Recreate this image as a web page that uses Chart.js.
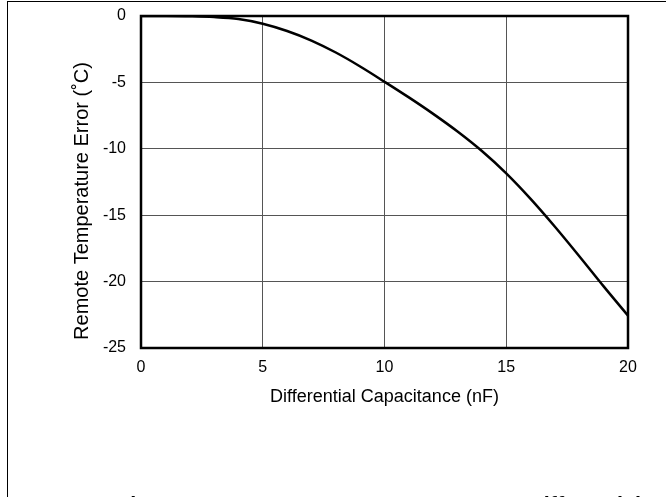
<!DOCTYPE html>
<html>
<head>
<meta charset="utf-8">
<script src="https://cdn.jsdelivr.net/npm/chart.js@4/dist/chart.umd.min.js"></script>
<style>
  html, body { margin: 0; padding: 0; background: #fff; overflow: hidden; }
  #wrap { position: relative; width: 671px; height: 497px; }
  #frame { position: absolute; left: 7px; top: 1px; width: 659px; height: 496px;
           border-top: 1.5px solid #000; border-left: 1.5px solid #000; box-sizing: border-box; }
  #caption { position: absolute; left: 117px; top: 494px; white-space: nowrap;
             font: bold 21.6px "Liberation Sans", Arial, sans-serif; line-height: 1; color: #000; }
  canvas { position: absolute; left: 0; top: 0; }
</style>
</head>
<body>
<div id="wrap">
  <canvas id="c" width="671" height="497"></canvas>
  <div id="frame"></div>
  <div id="caption">Figure 4. Remote Temperature Error vs. Differential Capacitance</div>
</div>
<script>
// Differential capacitance (nF)
const capacitance = [0, 1, 2, 3, 4, 5, 6, 7, 8, 9, 10, 11, 12, 13, 14, 15, 16, 17, 18, 19, 20];
// Remote temperature error (°C)
const tempError = [0, 0, -0.02, -0.08, -0.23, -0.58, -1.13, -1.85, -2.75, -3.8, -4.95, -6.13, -7.37, -8.7, -10.17, -11.85, -13.77, -15.87, -18.09, -20.36, -22.56];
const xTicks = [0, 5, 10, 15, 20];
const yTicks = [0, -5, -10, -15, -20, -25];
const yTitle = 'Remote Temperature Error (˚C)';

const points = capacitance.map((x, i) => ({ x: x, y: tempError[i] }));
const font = "'Liberation Sans', Arial, sans-serif";

const framePlugin = {
  id: 'frame',
  afterDatasetsDraw(chart) {
    const a = chart.chartArea, ctx = chart.ctx;
    ctx.save();
    ctx.strokeStyle = '#000';
    ctx.lineWidth = 2.5;
    ctx.strokeRect(a.left, a.top, a.right - a.left, a.bottom - a.top);
    ctx.restore();
  }
};

const yTitlePlugin = {
  id: 'yTitle',
  afterDraw(chart) {
    const ctx = chart.ctx;
    ctx.save();
    ctx.translate(82, 201);
    ctx.rotate(-Math.PI / 2);
    ctx.font = '20px ' + font;
    ctx.fillStyle = '#000';
    ctx.textAlign = 'center';
    ctx.textBaseline = 'middle';
    ctx.fillText(yTitle, 0, 0);
    ctx.restore();
  }
};

new Chart(document.getElementById('c'), {
  type: 'line',
  data: {
    datasets: [{
      data: points,
      borderColor: '#000',
      borderWidth: 2.5,
      pointRadius: 0,
      tension: 0.35,
      fill: false
    }]
  },
  options: {
    responsive: false,
    animation: false,
    layout: { padding: { left: 0, right: 43, top: 16, bottom: 0 } },
    plugins: { legend: { display: false }, tooltip: { enabled: false } },
    scales: {
      x: {
        type: 'linear',
        min: 0, max: 20,
        afterBuildTicks: s => { s.ticks = xTicks.map(v => ({ value: v })); },
        afterFit: s => { s.height = 149; s.paddingLeft = 0; s.paddingRight = 0; },
        grid: { color: '#555', lineWidth: 1, drawTicks: false },
        border: { display: false },
        ticks: { color: '#000', padding: 10, font: { family: font, size: 16 }, maxRotation: 0 },
        title: { display: true, text: 'Differential Capacitance (nF)', color: '#000',
                 font: { family: font, size: 18 }, padding: { top: 0, bottom: 89 } }
      },
      y: {
        type: 'linear',
        min: -25, max: 0,
        afterBuildTicks: s => { s.ticks = yTicks.map(v => ({ value: v })); },
        afterFit: s => { s.width = 141; s.paddingTop = 0; s.paddingBottom = 0; },
        grid: { color: '#555', lineWidth: 1, drawTicks: false },
        border: { display: false },
        ticks: { color: '#000', padding: 15, font: { family: font, size: 16 } },
        title: { display: false }
      }
    }
  },
  plugins: [framePlugin, yTitlePlugin]
});
</script>
</body>
</html>
